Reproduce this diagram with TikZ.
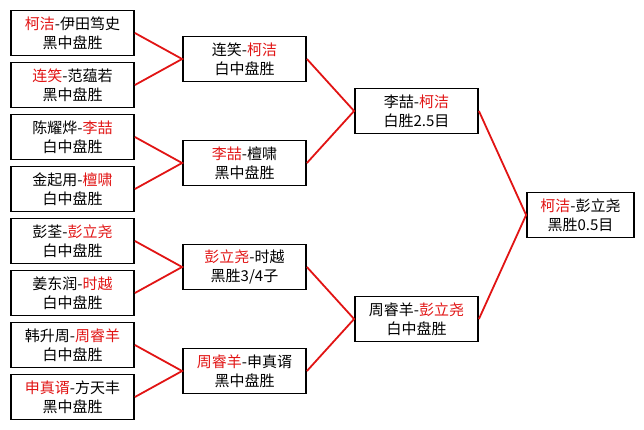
\documentclass[tikz,border=0pt]{standalone}
\usepackage{fontspec}
\newfontfamily\cjkfont{Noto Sans CJK SC}
\definecolor{winred}{RGB}{225,20,20}
\newcommand\winner[1]{\textcolor{winred}{#1}}
\tikzset{
  game/.style={draw=black,line width=1.8pt,minimum width=123pt,minimum height=45pt,
    inner sep=0pt,align=center,font=\cjkfont\fontsize{15}{19}\selectfont},
  final/.style={game,minimum width=107pt},
  feed/.style={draw=winred,line width=1.8pt}
}

\begin{document}
\begin{tikzpicture}[x=1pt,y=-1pt]
\path[use as bounding box] (0,0) rectangle (644,429);
% round of 16
\node[game] (a1) at (72.5,33) {\winner{柯洁}-伊田笃史\\黑中盘胜};
\node[game] (a2) at (72.5,85) {\winner{连笑}-范蕴若\\黑中盘胜};
\node[game] (a3) at (72.5,137) {陈耀烨-\winner{李喆}\\白中盘胜};
\node[game] (a4) at (72.5,189) {金起用-\winner{檀啸}\\白中盘胜};
\node[game] (a5) at (72.5,241) {彭荃-\winner{彭立尧}\\白中盘胜};
\node[game] (a6) at (72.5,293) {姜东润-\winner{时越}\\白中盘胜};
\node[game] (a7) at (72.5,345) {韩升周-\winner{周睿羊}\\白中盘胜};
\node[game] (a8) at (72.5,397) {\winner{申真谞}-方天丰\\黑中盘胜};
% quarter finals
\node[game] (b1) at (244.5,59) {连笑-\winner{柯洁}\\白中盘胜};
\node[game] (b2) at (244.5,163) {\winner{李喆}-檀啸\\黑中盘胜};
\node[game] (b3) at (244.5,267) {\winner{彭立尧}-时越\\黑胜3/4子};
\node[game] (b4) at (244.5,371) {\winner{周睿羊}-申真谞\\黑中盘胜};
% semi finals
\node[game] (c1) at (416.5,111) {李喆-\winner{柯洁}\\白胜2.5目};
\node[game] (c2) at (416.5,319) {周睿羊-\winner{彭立尧}\\白中盘胜};
% final
\node[final] (d1) at (580.5,215) {\winner{柯洁}-彭立尧\\黑胜0.5目};
% red feeder lines
\draw[feed] (a1.east) -- (b1.west) -- (a2.east);
\draw[feed] (a3.east) -- (b2.west) -- (a4.east);
\draw[feed] (a5.east) -- (b3.west) -- (a6.east);
\draw[feed] (a7.east) -- (b4.west) -- (a8.east);
\draw[feed] (b1.east) -- (c1.west) -- (b2.east);
\draw[feed] (b3.east) -- (c2.west) -- (b4.east);
\draw[feed] (c1.east) -- (d1.west) -- (c2.east);
\end{tikzpicture}
\end{document}
